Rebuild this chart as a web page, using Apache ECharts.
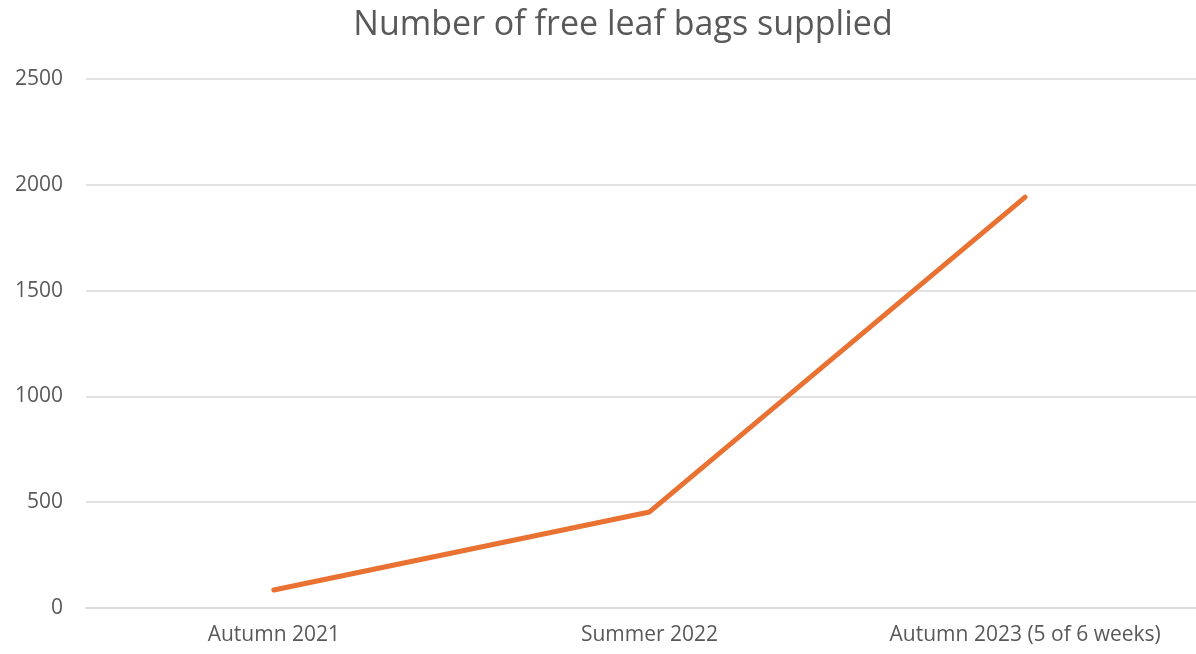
<!DOCTYPE html>
<html>
<head>
<meta charset="utf-8">
<script src="https://cdn.jsdelivr.net/npm/echarts@6/dist/echarts.min.js"></script>
<style>html,body{margin:0;padding:0;background:#fff;overflow:hidden;width:1196px;height:654px}#c{width:1213px;height:654px}</style>
</head>
<body>
<div id="c"></div>
<script>
const categories = ['Autumn 2021', 'Summer 2022', 'Autumn 2023 (5 of 6 weeks)'];
const bagsSupplied = [85, 454, 1942];
const titleText = 'Number of free leaf bags supplied';

const chart = echarts.init(document.getElementById('c'), null, {renderer: 'canvas'});
chart.setOption({
  animation: false,
  backgroundColor: '#ffffff',
  title: {
    text: titleText,
    left: 618, textAlign: 'center', top: 3,
    textStyle: {fontFamily: 'Open Sans', fontWeight: 'normal', fontSize: 34, color: '#595959'}
  },
  grid: {left: 86, right: 0, top: 79, bottom: 46, containLabel: false},
  xAxis: {
    type: 'category',
    data: categories,
    boundaryGap: true,
    axisLine: {show: true, lineStyle: {color: '#d9d9d9', width: 1.5}},
    axisTick: {show: false},
    axisLabel: {fontFamily: 'Open Sans', fontSize: 21, color: '#595959', margin: 17}
  },
  yAxis: {
    type: 'value',
    min: 0, max: 2500, interval: 500,
    axisLine: {show: false},
    axisTick: {show: false},
    splitLine: {lineStyle: {color: '#d9d9d9', width: 1.5}},
    axisLabel: {fontFamily: 'Open Sans', fontSize: 21, color: '#595959', margin: 23,
      formatter: function (v) { return String(v); }}
  },
  series: [{
    type: 'line',
    data: bagsSupplied,
    symbol: 'none',
    lineStyle: {color: '#E97132', width: 5, cap: 'round', join: 'round'},
    itemStyle: {color: '#E97132'}
  }]
});
</script>
</body>
</html>
